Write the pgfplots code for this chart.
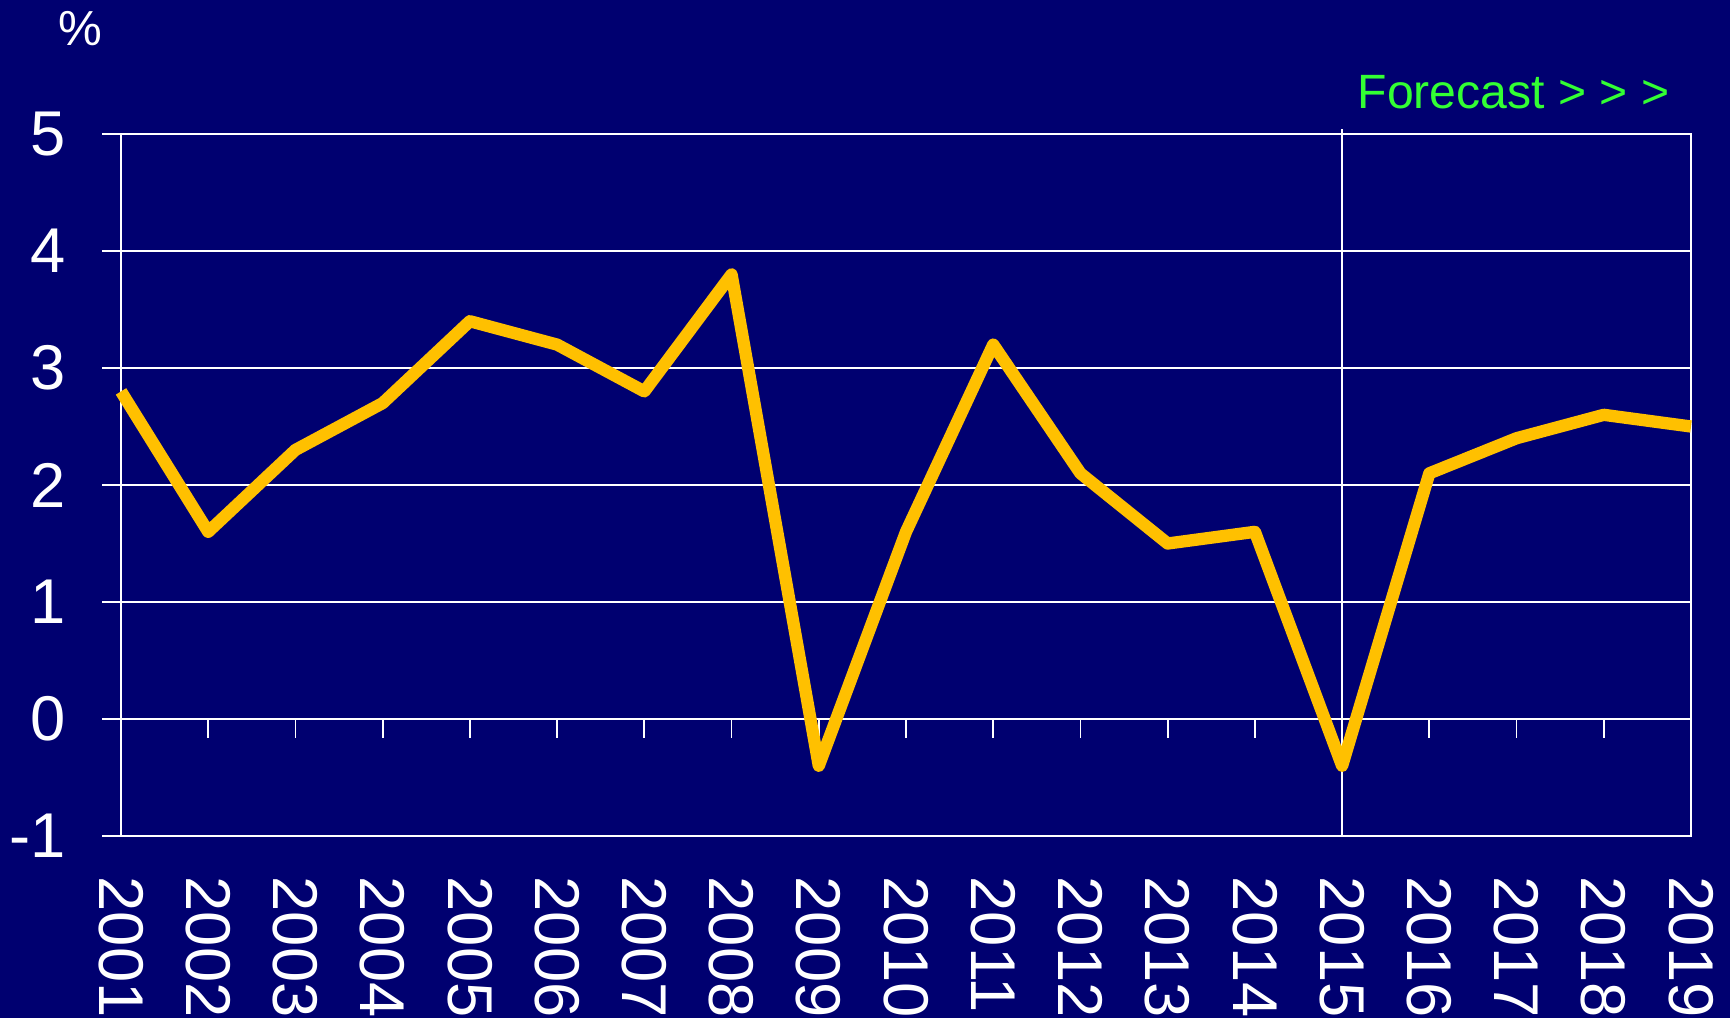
\documentclass[border=0pt]{standalone}
\usepackage{fontspec}
\setmainfont{Liberation Sans}
\usepackage{pgfplots}
\pgfplotsset{compat=1.18}
\definecolor{bgnavy}{HTML}{000070}
\definecolor{linegold}{HTML}{FFC000}
\definecolor{fcgreen}{HTML}{33FF33}

\begin{document}
\begin{tikzpicture}
\fill[bgnavy] (0,0) rectangle (17.30,10.18);
\begin{axis}[
  at={(1.21cm,1.82cm)}, anchor=south west,
  scale only axis, width=15.70cm, height=7.02cm,
  xmin=2001, xmax=2019, ymin=-1, ymax=5,
  clip=false,
  axis line style={white, line width=0.5pt},
  xtick={2001,...,2019},
  ytick={-1,0,...,5},
  ymajorgrids,
  grid style={white, line width=0.5pt},
  tick style={white, line width=0.5pt},
  major tick length=0.19cm,
  tick align=outside,
  ytick pos=left,
  xtick style={draw=none},
  font=\fontsize{18}{21}\selectfont,
  ticklabel style={text=white},
  /pgf/number format/assume math mode=true,
  /pgf/number format/1000 sep={},
  xticklabel style={rotate=-90, anchor=west, inner sep=0pt},
  yticklabel style={inner sep=0pt},
  xticklabel shift=0.21cm,
  yticklabel shift=0.36cm,
]
% forecast divider
\draw[white, line width=0.5pt] (axis cs:2015,5.04) -- (axis cs:2015,-1);
% x tick marks sit on the zero line
\pgfplotsinvokeforeach{2002,...,2019}{
  \draw[white, line width=0.5pt] (axis cs:#1,0) -- ([yshift=-0.19cm]axis cs:#1,0);
}
\addplot[linegold, line width=3.5pt, line join=round] coordinates {
  (2001,2.8) (2002,1.6) (2003,2.3) (2004,2.7) (2005,3.4) (2006,3.2)
  (2007,2.8) (2008,3.8) (2009,-0.4) (2010,1.6) (2011,3.2) (2012,2.1)
  (2013,1.5) (2014,1.6) (2015,-0.4) (2016,2.1) (2017,2.4) (2018,2.6)
  (2019,2.5)
};
\end{axis}
\node[anchor=base west, inner sep=0pt, text=white, font=\fontsize{14}{16}\selectfont] at (0.58,9.73) {\%};
\node[anchor=base west, inner sep=0pt, text=fcgreen, font=\fontsize{13.7}{16}\selectfont] at (13.57,9.10) {Forecast > > >};
\pgfresetboundingbox
\path (0,0) rectangle (17.30,10.18);
\end{tikzpicture}
\end{document}
